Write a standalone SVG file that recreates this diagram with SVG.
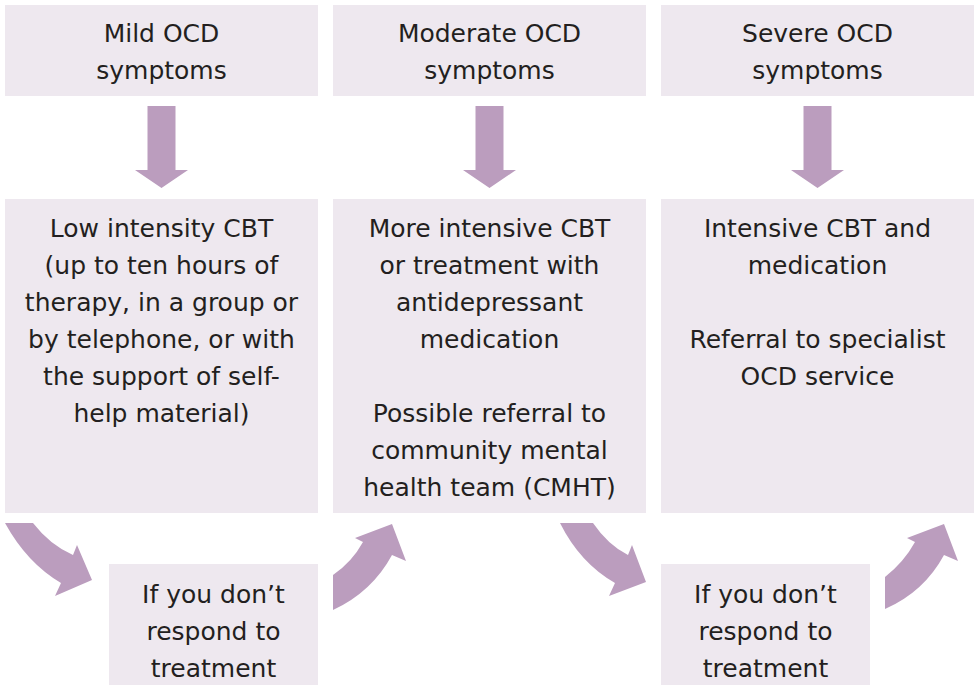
<svg xmlns="http://www.w3.org/2000/svg" width="978" height="685" viewBox="0 0 978 685">
<style>
.box{fill:#EEE8EF}
.arr{fill:#BB9DBE}
text{font-family:"DejaVu Sans","Verdana",sans-serif;font-size:25px;fill:#231F20;text-anchor:middle}
</style>
<rect width="978" height="685" fill="#FFFFFF"/>
<g id="mild">
<rect class="box" x="5" y="5" width="313" height="91"/>
<text x="161.5" y="42">Mild OCD</text>
<text x="161.5" y="79">symptoms</text>
</g>
<g id="moderate">
<rect class="box" x="333" y="5" width="313" height="91"/>
<text x="489.5" y="42">Moderate OCD</text>
<text x="489.5" y="79">symptoms</text>
</g>
<g id="severe">
<rect class="box" x="661" y="5" width="313" height="91"/>
<text x="817.5" y="42">Severe OCD</text>
<text x="817.5" y="79">symptoms</text>
</g>
<g id="low-intensity">
<rect class="box" x="5" y="199" width="313" height="314"/>
<text x="161.5" y="237">Low intensity CBT</text>
<text x="161.5" y="274">(up to ten hours of</text>
<text x="161.5" y="311">therapy, in a group or</text>
<text x="161.5" y="348">by telephone, or with</text>
<text x="161.5" y="385">the support of self-</text>
<text x="161.5" y="422">help material)</text>
</g>
<g id="more-intensive">
<rect class="box" x="333" y="199" width="313" height="314"/>
<text x="489.5" y="237">More intensive CBT</text>
<text x="489.5" y="274">or treatment with</text>
<text x="489.5" y="311">antidepressant</text>
<text x="489.5" y="348">medication</text>
<text x="489.5" y="422">Possible referral to</text>
<text x="489.5" y="459">community mental</text>
<text x="489.5" y="496">health team (CMHT)</text>
</g>
<g id="intensive">
<rect class="box" x="661" y="199" width="313" height="314"/>
<text x="817.5" y="237">Intensive CBT and</text>
<text x="817.5" y="274">medication</text>
<text x="817.5" y="348">Referral to specialist</text>
<text x="817.5" y="385">OCD service</text>
</g>
<g id="no-response-1">
<rect class="box" x="109" y="564" width="209" height="121"/>
<text x="213.5" y="603">If you don’t</text>
<text x="213.5" y="640">respond to</text>
<text x="213.5" y="677">treatment</text>
</g>
<g id="no-response-2">
<rect class="box" x="661" y="564" width="209" height="121"/>
<text x="765.5" y="603">If you don’t</text>
<text x="765.5" y="640">respond to</text>
<text x="765.5" y="677">treatment</text>
</g>
<g id="connectors">
<path class="arr" d="M147.5,106 H175.5 V170 H188 L161.5,188 L135,170 H147.5 Z"/>
<path class="arr" d="M475.5,106 H503.5 V170 H516 L489.5,188 L463,170 H475.5 Z"/>
<path class="arr" d="M803.5,106 H831.5 V170 H844 L817.5,188 L791,170 H803.5 Z"/>
<path class="arr" d="M5,523 L33,523 Q50,545 73,555 L77,545 L92,580 L55,596 L61,583 Q27,563 5,523 Z"/>
<path class="arr" d="M333,610 L333,575 Q352,562 363,542 L355,538 L392,524 L406,561 L392,555 Q372,592 333,610 Z"/>
<path class="arr" d="M560,523 L593,523 Q608,545 628,555 L632,545 L646,582 L609,596 L615,583 Q580,563 560,523 Z"/>
<path class="arr" d="M885,609 L885,577 Q904,562 915,542 L907,538 L944,524 L958,561 L944,555 Q924,592 885,609 Z"/>
</g>
</svg>
